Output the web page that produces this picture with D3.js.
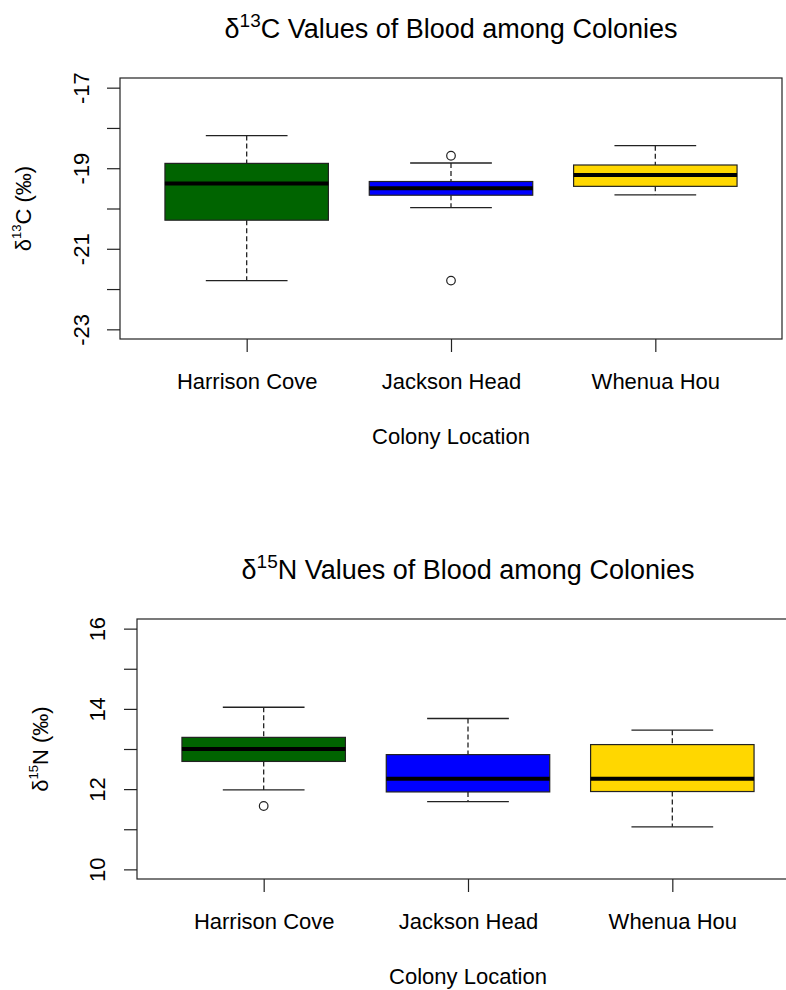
<!DOCTYPE html>
<html>
<head>
<meta charset="utf-8">
<script src="https://cdn.jsdelivr.net/npm/d3@7"></script>
<style>
  body { margin: 0; background: #fff; }
  svg { display: block; font-family: "Liberation Sans", Arial, sans-serif; }
</style>
</head>
<body>
<svg id="chart" width="786" height="990"></svg>
<script>
// colonies on the x axis
const colonies = ["Harrison Cove", "Jackson Head", "Whenua Hou"];
const fills = ["#006400", "#0000ff", "#ffd700"];

// d13C five-number summaries
const carbonLow    = [-21.79, -19.98, -19.66];
const carbonQ1     = [-20.29, -19.67, -19.45];
const carbonMedian = [-19.38, -19.50, -19.17];
const carbonQ3     = [-18.88, -19.33, -18.92];
const carbonHigh   = [-18.19, -18.87, -18.44];
const carbonOut    = [[], [-18.69, -21.79], []];
const carbonTicks  = [-23, -22, -21, -20, -19, -18, -17];
const carbonLabels = [-23, -21, -19, -17];

// d15N five-number summaries
const nitroLow    = [11.98, 11.69, 11.06];
const nitroQ1     = [12.69, 11.93, 11.94];
const nitroMedian = [13.00, 12.26, 12.26];
const nitroQ3     = [13.29, 12.86, 13.11];
const nitroHigh   = [14.04, 13.76, 13.47];
const nitroOut    = [[11.58], [], []];
const nitroTicks  = [10, 11, 12, 13, 14, 15, 16];
const nitroLabels = [10, 12, 14, 16];

const svg = d3.select("#chart");

function boxplot(opt) {
  const {left, top, width, height, ylim, ticks, labels, stats, outliers, title, sup, elem, ylabX} = opt;
  const g = svg.append("g");

  // R style: 4% padding around the limits
  const x = d3.scaleLinear().domain([0.38, 3.62]).range([left, left + width]);
  const pad = (ylim[1] - ylim[0]) * 0.04;
  const y = d3.scaleLinear().domain([ylim[0] - pad, ylim[1] + pad]).range([top + height, top]);

  const rows = colonies.map((c, i) => ({
    name: c, pos: i + 1, fill: fills[i],
    lo: stats.low[i], q1: stats.q1[i], med: stats.med[i], q3: stats.q3[i], hi: stats.high[i],
    out: outliers[i]
  }));

  const bw = (x(1.4) - x(0.6)) / 2;   // half box width
  const cw = bw / 2;                  // half staple width

  const b = g.selectAll("g.box").data(rows).join("g").attr("class", "box");

  // whiskers
  b.append("line")
      .attr("x1", d => x(d.pos)).attr("x2", d => x(d.pos))
      .attr("y1", d => y(d.hi)).attr("y2", d => y(d.q3))
      .attr("stroke", "#222").attr("stroke-width", 1.3).attr("stroke-dasharray", "5,3");
  b.append("line")
      .attr("x1", d => x(d.pos)).attr("x2", d => x(d.pos))
      .attr("y1", d => y(d.q1)).attr("y2", d => y(d.lo))
      .attr("stroke", "#222").attr("stroke-width", 1.3).attr("stroke-dasharray", "5,3");
  b.append("line")
      .attr("x1", d => x(d.pos) - cw).attr("x2", d => x(d.pos) + cw)
      .attr("y1", d => y(d.hi)).attr("y2", d => y(d.hi))
      .attr("stroke", "#222").attr("stroke-width", 1.3);
  b.append("line")
      .attr("x1", d => x(d.pos) - cw).attr("x2", d => x(d.pos) + cw)
      .attr("y1", d => y(d.lo)).attr("y2", d => y(d.lo))
      .attr("stroke", "#222").attr("stroke-width", 1.3);

  b.append("rect")
      .attr("x", d => x(d.pos) - bw)
      .attr("width", bw * 2)
      .attr("y", d => y(d.q3))
      .attr("height", d => y(d.q1) - y(d.q3))
      .attr("fill", d => d.fill)
      .attr("stroke", "#222").attr("stroke-width", 1.2);

  b.append("line")
      .attr("x1", d => x(d.pos) - bw).attr("x2", d => x(d.pos) + bw)
      .attr("y1", d => y(d.med)).attr("y2", d => y(d.med))
      .attr("stroke", "#000").attr("stroke-width", 4);

  b.selectAll("circle").data(d => d.out.map(v => ({pos: d.pos, v})))
    .join("circle")
      .attr("cx", d => x(d.pos)).attr("cy", d => y(d.v))
      .attr("r", 4.3)
      .attr("fill", "none").attr("stroke", "#222").attr("stroke-width", 1.2);

  // frame
  g.append("rect")
      .attr("x", left).attr("y", top).attr("width", width).attr("height", height)
      .attr("fill", "none").attr("stroke", "#222").attr("stroke-width", 1.2);

  // y axis, labels turned like R's las = 0
  const yAxis = d3.axisLeft(y).tickValues(ticks).tickSize(13).tickPadding(0)
      .tickFormat(v => labels.includes(v) ? String(v) : "");
  const ya = g.append("g").attr("transform", `translate(${left},0)`).call(yAxis);
  ya.select(".domain").remove();
  ya.selectAll("line").attr("stroke", "#222").attr("stroke-width", 1.2);
  ya.selectAll("text")
      .attr("transform", `translate(${opt.tickLabX - left},0) rotate(-90)`)
      .attr("x", 0).attr("y", 0).attr("dy", null)
      .attr("dominant-baseline", "central")
      .attr("text-anchor", "middle")
      .attr("fill", "#000")
      .style("font-size", "22px");

  const xAxis = d3.axisBottom(x).tickValues([1, 2, 3]).tickSize(13).tickPadding(21)
      .tickFormat(v => colonies[v - 1]);
  const xa = g.append("g").attr("transform", `translate(0,${top + height})`).call(xAxis);
  xa.select(".domain").remove();
  xa.selectAll("line").attr("stroke", "#222").attr("stroke-width", 1.2);
  xa.selectAll("text").attr("fill", "#000").style("font-size", "22px");

  g.append("text")
      .attr("x", left + width / 2).attr("y", top + height + 105)
      .attr("text-anchor", "middle")
      .style("font-size", "22px")
      .text("Colony Location");

  // y label, rotated
  const yl = g.append("text")
      .attr("transform", `translate(${ylabX},${top + height / 2}) rotate(-90)`)
      .attr("text-anchor", "middle")
      .attr("dominant-baseline", "central")
      .style("font-size", "22px");
  yl.append("tspan").text("δ");
  yl.append("tspan").attr("dy", -7).style("font-size", "13px").text(sup);
  yl.append("tspan").attr("dy", 7).text(elem + " (‰)");

  // title
  const t = svg.append("text")
      .attr("x", left + width / 2).attr("y", top - 40)
      .attr("text-anchor", "middle")
      .style("font-size", "27px");
  t.append("tspan").text("δ");
  t.append("tspan").attr("dy", -11).style("font-size", "19px").text(sup);
  t.append("tspan").attr("dy", 11).text(elem + " " + title);
}

boxplot({
  left: 120, top: 78, width: 662, height: 261,
  ylim: [-23, -17], ticks: carbonTicks, labels: carbonLabels,
  stats: {low: carbonLow, q1: carbonQ1, med: carbonMedian, q3: carbonQ3, high: carbonHigh},
  outliers: carbonOut, title: "Values of Blood among Colonies", sup: "13", elem: "C",
  tickLabX: 81, ylabX: 23
});

boxplot({
  left: 137, top: 619, width: 662, height: 260,
  ylim: [10, 16], ticks: nitroTicks, labels: nitroLabels,
  stats: {low: nitroLow, q1: nitroQ1, med: nitroMedian, q3: nitroQ3, high: nitroHigh},
  outliers: nitroOut, title: "Values of Blood among Colonies", sup: "15", elem: "N",
  tickLabX: 97, ylabX: 40
});
</script>
</body>
</html>
